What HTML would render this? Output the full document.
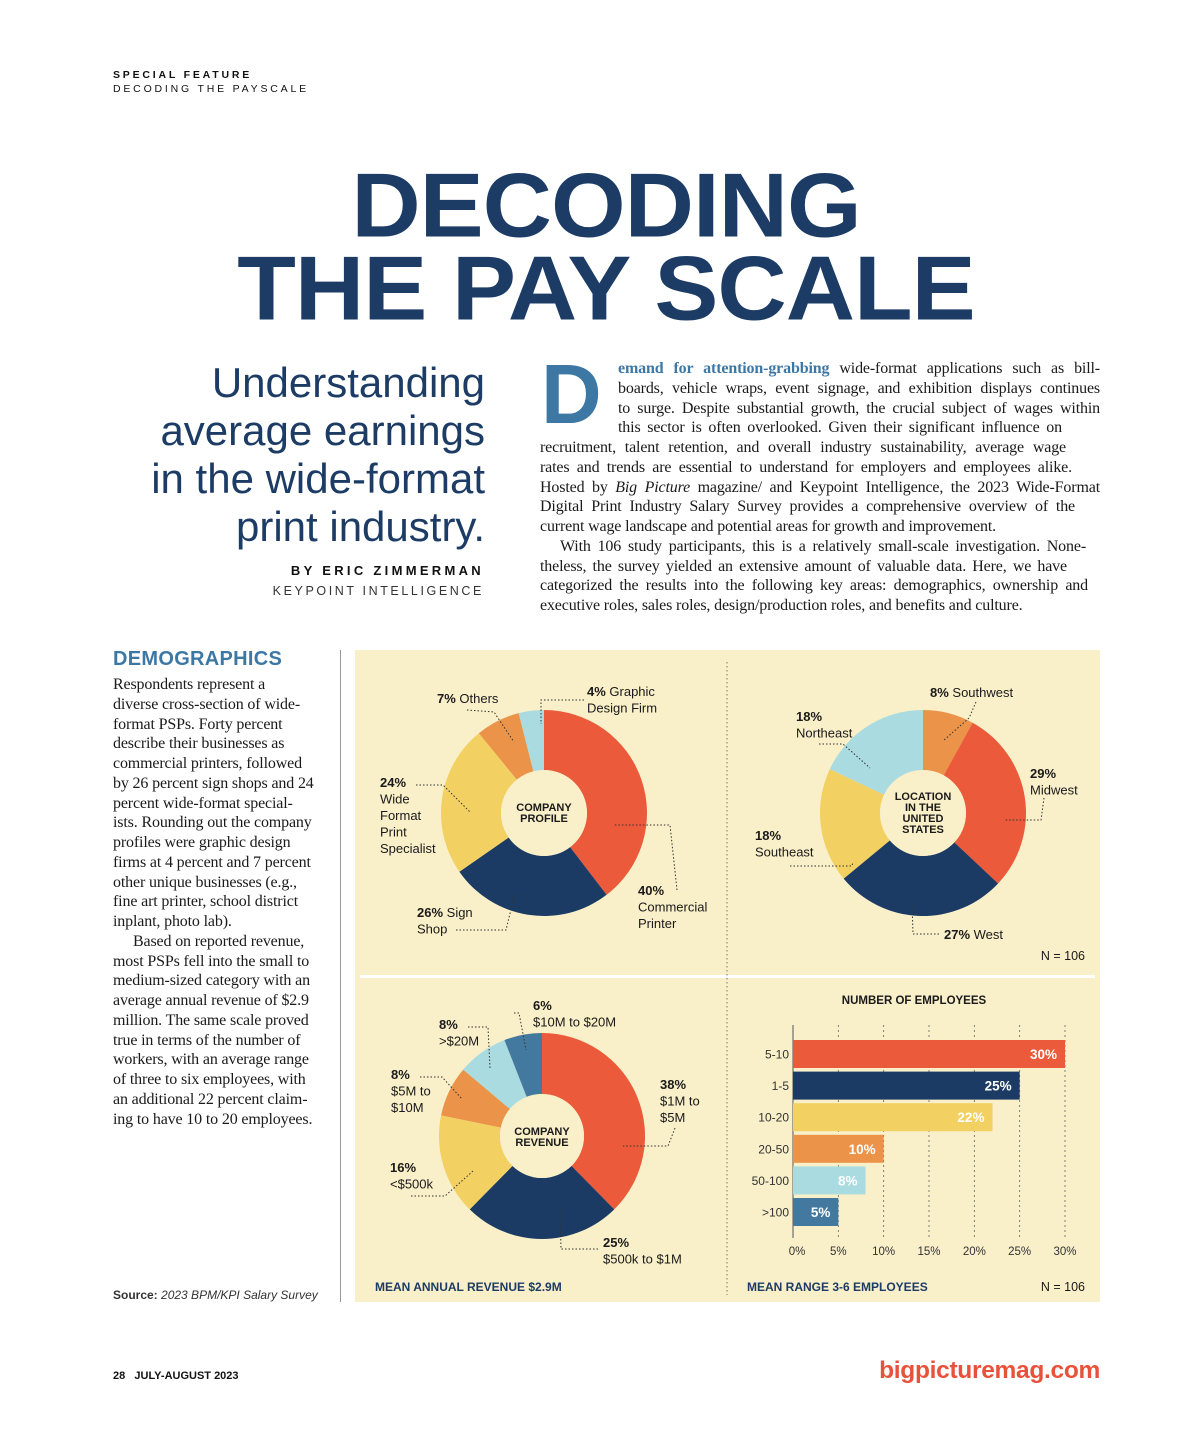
<!DOCTYPE html>
<html><head><meta charset="utf-8">
<style>
*{margin:0;padding:0;box-sizing:border-box}
body{width:1200px;height:1430px;background:#fff;position:relative;overflow:hidden;font-family:"Liberation Sans",sans-serif;color:#111}
.abs{position:absolute}
.kick{font-size:10.5px;letter-spacing:2.8px;white-space:nowrap}
.title{font-weight:bold;color:#1c3c66;font-size:96px;letter-spacing:-1px;white-space:nowrap;line-height:1;transform:scaleY(0.95)}
.sub{font-size:42px;color:#1c3c66;right:715px;text-align:right;white-space:nowrap;line-height:48px;font-weight:300;letter-spacing:0px}
.ser{font-family:"Liberation Serif",serif;font-size:16px;letter-spacing:-0.15px;line-height:19.75px;color:#1a1a1a;white-space:nowrap}
.jl{text-align:justify;text-align-last:justify}
</style></head>
<body>
<div class="abs kick" style="left:113px;top:69px;font-weight:bold">SPECIAL FEATURE</div>
<div class="abs kick" style="left:113px;top:83px">DECODING THE PAYSCALE</div>

<div class="abs title" style="left:0;width:1212px;text-align:center;top:158px">DECODING</div>
<div class="abs title" style="left:0;width:1212px;text-align:center;top:241px">THE PAY SCALE</div>

<div class="abs sub" style="top:359px">Understanding<br>average earnings<br>in the wide-format<br>print industry.</div>
<div class="abs" style="right:716px;top:563px;font-size:13px;font-weight:bold;letter-spacing:3.3px;white-space:nowrap">BY ERIC ZIMMERMAN</div>
<div class="abs" style="right:716px;top:584px;font-size:12.5px;letter-spacing:2.6px;color:#333;white-space:nowrap">KEYPOINT INTELLIGENCE</div>

<div class="abs" style="left:541px;top:352px;font-size:84px;font-weight:bold;color:#3d78a5;line-height:1">D</div>
<div class="abs ser" style="left:540px;top:359px;width:560px">
<div class="jl" style="margin-left:78px"><span style="color:#3d78a5;font-weight:bold">emand for attention-grabbing</span> wide-format applications such as bill-</div>
<div class="jl" style="margin-left:78px">boards, vehicle wraps, event signage, and exhibition displays continues</div>
<div class="jl" style="margin-left:78px">to surge. Despite substantial growth, the crucial subject of wages within</div>
<div class="jl" style="margin-left:78px;margin-right:38px">this sector is often overlooked. Given their significant influence on</div>
<div class="jl" style="margin-right:34px">recruitment, talent retention, and overall industry sustainability, average wage</div>
<div class="jl" style="margin-right:28px">rates and trends are essential to understand for employers and employees alike.</div>
<div class="jl">Hosted by <i>Big Picture</i> magazine/ and Keypoint Intelligence, the 2023 Wide-Format</div>
<div class="jl" style="margin-right:25px">Digital Print Industry Salary Survey provides a comprehensive overview of the</div>
<div>current wage landscape and potential areas for growth and improvement.</div>
<div class="jl" style="padding-left:20px;margin-right:14px">With 106 study participants, this is a relatively small-scale investigation. None-</div>
<div class="jl" style="margin-right:33px">theless, the survey yielded an extensive amount of valuable data. Here, we have</div>
<div class="jl" style="margin-right:12px">categorized the results into the following key areas: demographics, ownership and</div>
<div>executive roles, sales roles, design/production roles, and benefits and culture.</div>
</div>

<div class="abs" style="left:113px;top:648px;font-size:20px;font-weight:bold;color:#3d78a5;letter-spacing:0.3px">DEMOGRAPHICS</div>
<div class="abs ser" style="left:113px;top:675px;width:215px">
<div>Respondents represent a</div><div>diverse cross-section of wide-</div><div>format PSPs. Forty percent</div><div>describe their businesses as</div><div>commercial printers, followed</div><div>by 26 percent sign shops and 24</div><div>percent wide-format special-</div><div>ists. Rounding out the company</div><div>profiles were graphic design</div><div>firms at 4 percent and 7 percent</div><div>other unique businesses (e.g.,</div><div>fine art printer, school district</div><div>inplant, photo lab).</div><div style="padding-left:20px">Based on reported revenue,</div><div>most PSPs fell into the small to</div><div>medium-sized category with an</div><div>average annual revenue of $2.9</div><div>million. The same scale proved</div><div>true in terms of the number of</div><div>workers, with an average range</div><div>of three to six employees, with</div><div>an additional 22 percent claim-</div><div>ing to have 10 to 20 employees.</div>
</div>
<div class="abs" style="left:113px;top:1288px;font-size:12px;color:#333;white-space:nowrap"><b>Source:</b> <i>2023 BPM/KPI Salary Survey</i></div>
<div class="abs" style="left:340px;top:650px;width:1px;height:652px;background:#999"></div>

<div class="abs" style="left:355px;top:650px;width:745px;height:652px;background:#f9efc9"></div>
<div class="abs" style="left:360px;top:975px;width:735px;height:3px;background:#fff"></div>

<svg class="abs" id="charts" style="left:0;top:0" width="1200" height="1430" xmlns="http://www.w3.org/2000/svg" font-family="Liberation Sans, sans-serif"></svg>

<div class="abs" style="left:113px;top:1370px;font-size:11px;white-space:nowrap;font-weight:bold">28&nbsp;&nbsp; JULY-AUGUST 2023</div>
<div class="abs" style="right:100px;top:1357px;font-size:24.5px;font-weight:bold;color:#e8523a;white-space:nowrap;letter-spacing:-0.3px">bigpicturemag.com</div>

<script>
// Company profile donut
const profileCats = ["Commercial Printer","Sign Shop","Wide Format Print Specialist","Others","Graphic Design Firm"];
const profileVals = [40,26,24,7,4];
// Location donut
const locationCats = ["Southwest","Midwest","West","Southeast","Northeast"];
const locationVals = [8,29,27,18,18];
// Revenue donut
const revenueCats = ["$1M to $5M","$500k to $1M","<$500k","$5M to $10M",">$20M","$10M to $20M"];
const revenueVals = [38,25,16,8,8,6];
// Employees bar chart
const empCats = ["5-10","1-5","10-20","20-50","50-100",">100"];
const empVals = [30,25,22,10,8,5];
const empTicks = [0,5,10,15,20,25,30];

const C = {red:"#eb5a3a",navy:"#1b3b64",yel:"#f2d162",org:"#eb9449",lb:"#a9dbe0",sb:"#44799f"};
const profileColors=[C.red,C.navy,C.yel,C.org,C.lb];
const locationColors=[C.org,C.red,C.navy,C.yel,C.lb];
const revenueColors=[C.red,C.navy,C.yel,C.org,C.lb,C.sb];
const empColors=[C.red,C.navy,C.yel,C.org,C.lb,C.sb];

const svg=document.getElementById('charts');
const NS="http://www.w3.org/2000/svg";
function mk(tag,attrs,parent){const e=document.createElementNS(NS,tag);for(const k in attrs)e.setAttribute(k,attrs[k]);(parent||svg).appendChild(e);return e;}
function txt(x,y,s,opt,name){const t=mk('text',Object.assign({x:x,y:y,'font-size':13,fill:'#1a1a1a'},opt||{}));t.textContent=s;


return t;}
function pt(cx,cy,r,f){const a=f*2*Math.PI;return [cx+r*Math.sin(a),cy-r*Math.cos(a)];}
function donut(cx,cy,r0,r1,vals,cols,name){
  const tot=vals.reduce((a,b)=>a+b,0);let acc=0;
  vals.forEach((v,i)=>{const f0=acc/tot,f1=(acc+v)/tot;acc+=v;
    const a=pt(cx,cy,r1,f0),b=pt(cx,cy,r1,f1),c=pt(cx,cy,r0,f1),d=pt(cx,cy,r0,f0);const lg=(f1-f0)>0.5?1:0;
    const p=mk('path',{d:`M${a}A${r1},${r1} 0 ${lg} 1 ${b}L${c}A${r0},${r0} 0 ${lg} 0 ${d}Z`,fill:cols[i]});
    
    
  });
  const h=mk('circle',{cx:cx,cy:cy,r:r0,fill:'#f9efc9'});
  
  
}
function lead(points){const l=mk('polyline',{points:points,fill:'none',stroke:'#333','stroke-width':1,'stroke-dasharray':'1.5 2'});

}
function lab(x,y,pct,rest,lines,name){
  const t=txt(x,y,'',{},name);
  const b=mk('tspan',{'font-weight':'bold'},t);b.textContent=pct+'%';
  if(rest){const s=mk('tspan',{},t);s.textContent=' '+rest;}
  (lines||[]).forEach((ln,i)=>txt(x,y+16.5*(i+1),ln,{},name));
}

const dv=mk('line',{x1:727,y1:662,x2:727,y2:1295,stroke:'#777','stroke-dasharray':'1.5 2.5'});



// Donut 1
donut(544,813,43,103,profileVals,profileColors,'profile');
txt(544,811,'COMPANY',{'font-size':11,'font-weight':'bold','text-anchor':'middle'},'profile-center-label');
txt(544,822,'PROFILE',{'font-size':11,'font-weight':'bold','text-anchor':'middle'},'profile-center-label');
lab(437,703,profileVals[3],'Others',[],'others-label');
lab(587,696,profileVals[4],'Graphic',['Design Firm'],'graphic-design-label');
lab(380,787,profileVals[2],'',['Wide','Format','Print','Specialist'],'wide-format-label');
lab(417,917,profileVals[1],'Sign',['Shop'],'sign-shop-label');
lab(638,895,profileVals[0],'',['Commercial','Printer'],'commercial-label');
lead('467,710 494,712 514,742');lead('584,700 541,700 541,724');lead('416,785 443,785 470,812');
lead('456,930 506,930 515,893');lead('677,890 670,825 614,825');

// Donut 2
donut(923,813,43,103,locationVals,locationColors,'location');
['LOCATION','IN THE','UNITED','STATES'].forEach((s,i)=>txt(923,800+11*i,s,{'font-size':11,'font-weight':'bold','text-anchor':'middle'},'location-center-label'));
lab(930,697,locationVals[0],'Southwest',[],'southwest-label');
lab(796,721,locationVals[4],'',['Northeast'],'northeast-label');
lab(1030,778,locationVals[1],'',['Midwest'],'midwest-label');
lab(755,840,locationVals[3],'',['Southeast'],'southeast-label');
lab(944,939,locationVals[2],'West',[],'west-label');
txt(1085,960,'N = 106',{'text-anchor':'end','font-size':12.5},'sample-size-top');
lead('976,702 969,718 943,741');lead('819,744 843,744 870,768');lead('1044,798 1041,820 1005,820');
lead('790,866 852,866 853,862');lead('939,934 913,934 912,903');

// Donut 3
donut(542,1136,42,103,revenueVals,revenueColors,'revenue');
txt(542,1135,'COMPANY',{'font-size':11,'font-weight':'bold','text-anchor':'middle'},'revenue-center-label');
txt(542,1146,'REVENUE',{'font-size':11,'font-weight':'bold','text-anchor':'middle'},'revenue-center-label');
lab(533,1010,revenueVals[5],'',['$10M to $20M'],'revenue-10-20m-label');
lab(439,1029,revenueVals[4],'',['>$20M'],'revenue-over-20m-label');
lab(391,1079,revenueVals[3],'',['$5M to','$10M'],'revenue-5-10m-label');
lab(660,1089,revenueVals[0],'',['$1M to','$5M'],'revenue-1-5m-label');
lab(390,1172,revenueVals[2],'',['<$500k'],'revenue-under-500k-label');
lab(603,1247,revenueVals[1],'',['$500k to $1M'],'revenue-500k-1m-label');
lead('514,1013 519,1013 526,1050');lead('468,1027 488,1027 490,1068');lead('420,1077 442,1077 462,1099');
lead('675,1128 668,1146 623,1146');lead('411,1196 445,1196 473,1171');lead('598,1249 561,1249 560,1208');
txt(375,1291,'MEAN ANNUAL REVENUE $2.9M',{'font-size':12,'font-weight':'bold',fill:'#1c3c66'},'revenue-footnote');

// Bar chart
const bx0=793,bx1=1065,by0=1025,by1=1238,bTop=1040,bStep=31.6,bH=28;
const xs=v=>bx0+(v-0)/(30-0)*(bx1-bx0);
txt(914,1004,'NUMBER OF EMPLOYEES',{'font-size':11.5,'font-weight':'bold','text-anchor':'middle'},'bar-chart-title');
empTicks.forEach((t,i)=>{
  if(i>0){const g=mk('line',{x1:xs(t),y1:by0,x2:xs(t),y2:by1,stroke:'#666','stroke-width':0.8,'stroke-dasharray':'2 3'});
  
  }
  txt(xs(t)+(i===0?4:0),1255,t+'%',{'font-size':11.5,'text-anchor':'middle',fill:'#333'},'x-tick-label');
});
const ax=mk('line',{x1:bx0,y1:by0,x2:bx0,y2:by1,stroke:'#555','stroke-width':1});


empVals.forEach((v,i)=>{
  const y=bTop+i*bStep;
  const r=mk('rect',{x:bx0,y:y,width:xs(v)-bx0,height:bH,fill:empColors[i]});
  
  
  txt(789,y+bH/2+4.5,empCats[i],{'font-size':12,'text-anchor':'end',fill:'#333'},'y-tick-label');
  txt(xs(v)-8,y+bH/2+5,v+'%',{'font-size':13.5,'font-weight':'bold','text-anchor':'end',fill:'#fff'},'bar-value-label');
});
txt(747,1291,'MEAN RANGE 3-6 EMPLOYEES',{'font-size':12,'font-weight':'bold',fill:'#1c3c66'},'employee-footnote');
txt(1085,1291,'N = 106',{'text-anchor':'end','font-size':12.5},'sample-size-bottom');
</script>
</body></html>
